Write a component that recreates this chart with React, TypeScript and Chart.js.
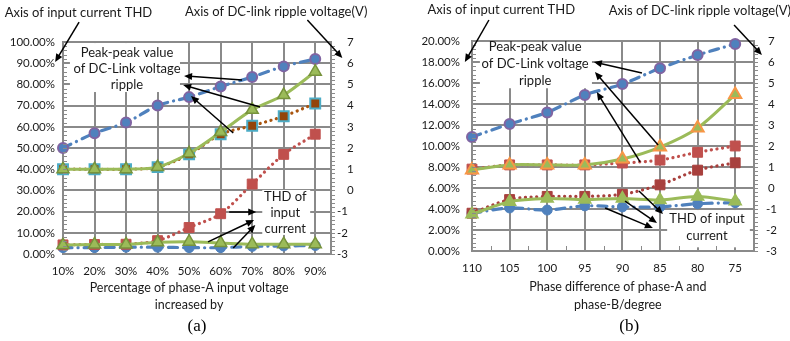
import React, { useEffect, useRef } from 'react';
import { Chart, registerables } from 'chart.js';

Chart.register(...registerables);

// ---------------- Chart (a) data ----------------
const categoriesA = ['10%', '20%', '30%', '40%', '50%', '60%', '70%', '80%', '90%'];
const rippleCirclesA = [2.0, 2.7, 3.2, 4.0, 4.4, 4.9, 5.35, 5.85, 6.2];
const rippleTrianglesA = [1.0, 1.0, 1.0, 1.1, 1.75, 2.75, 3.8, 4.5, 5.6];
const rippleSquaresA = [1.0, 1.0, 1.0, 1.1, 1.7, 2.65, 3.05, 3.5, 4.1];
const thdSquaresA = [4.3, 4.5, 4.6, 6.3, 12.5, 19.0, 33.0, 47.0, 56.5];
const thdTrianglesA = [4.2, 4.5, 4.5, 5.5, 5.8, 5.2, 4.6, 4.6, 4.6];
const thdCirclesA = [3.0, 3.0, 3.2, 3.2, 3.0, 3.0, 3.6, 3.8, 4.0];
const thdAxisA = [0, 100, 10]; // min, max, step (%)
const voltAxisA = [-3, 7, 1];

// ---------------- Chart (b) data ----------------
const categoriesB = ['110', '105', '100', '95', '90', '85', '80', '75'];
const rippleCirclesB = [2.43, 3.05, 3.6, 4.43, 4.95, 5.7, 6.33, 6.86];
const rippleTrianglesB = [0.86, 1.1, 1.1, 1.1, 1.38, 1.95, 2.86, 4.45];
const rippleSquaresB = [0.9, 1.1, 1.1, 1.1, 1.19, 1.33, 1.7, 2.0];
const thdSquaresB = [3.6, 4.9, 5.2, 5.2, 5.4, 6.3, 7.7, 8.4];
const thdTrianglesB = [3.5, 4.7, 5.0, 4.9, 5.0, 4.85, 5.2, 4.75];
const thdCirclesB = [3.6, 4.1, 3.9, 4.3, 4.2, 4.2, 4.5, 4.6];
const thdAxisB = [0, 20, 2];
const voltAxisB = [-3, 7, 1];

// ---------------- styles ----------------
const BLUE = '#4F81BD';
const PURPLE = '#8064A2';
const GREEN = '#9BBB59';
const GREEN_DARK = '#77933C';
const RED = '#C0504D';
const RED_DARK = '#A8403D';
const AQUA = '#4BACC6';
const BROWN_LINE = '#A9550F';
const BROWN_FILL = '#93440B';
const ORANGE = '#F79646';
const GRID = '#8a8a8a';
const TEXT = '#1a1a1a';
const FONT = 'Lato';
const TICK_SIZE = 11.5;
const NOTE_SIZE = 13;
const TITLE_SIZE = 12.5;

const solid = (color: string) => ({ borderColor: color, borderWidth: 3, tension: 0.3 });
const dotted = (color: string) => ({
  borderColor: color, borderWidth: 3.2, borderDash: [0.1, 5.5], borderCapStyle: 'round', tension: 0.3,
});
const dashDot = (color: string) => ({
  borderColor: color, borderWidth: 3.2, borderDash: [9, 6, 0.1, 6], borderCapStyle: 'round', tension: 0.3,
});
const marker = (style: string, fill: string, border: string, r: number, bw: number) => ({
  pointStyle: style, pointBackgroundColor: fill, pointBorderColor: border, pointRadius: r, pointBorderWidth: bw,
});

type Pt = [number, number];
interface Spec {
  categories: string[];
  thdAxis: number[];
  voltAxis: number[];
  area: { left: number; right: number; top: number; bottom: number };
  leftPad: number;
  rightPos: number;
  rightNeg: number;
  xMinor: boolean;
  datasets: any[];
  boxes: [number, number, number, number][];
  texts: { at: Pt; lines: string[]; lh: number }[];
  arrows: [Pt, Pt][];
  xTitle: { x: number; lines: string[]; dy: number[] };
  caption: { x: number; text: string; dy: number };
}

const series = (vals: number[], axis: string, style: any) => ({
  data: vals.map((v, i) => ({ x: i, y: v })),
  yAxisID: axis,
  fill: false,
  clip: false,
  ...style,
});

const specA: Spec = {
  categories: categoriesA,
  thdAxis: thdAxisA,
  voltAxis: voltAxisA,
  area: { left: 63, right: 331, top: 42, bottom: 254 },
  leftPad: 8,
  rightPos: 16,
  rightNeg: 6,
  xMinor: false,
  datasets: [
    series(rippleTrianglesA, 'y2', { ...solid(GREEN), ...marker('triangle', GREEN, GREEN_DARK, 7, 1.5) }),
    series(thdTrianglesA, 'y', { ...solid(GREEN), ...marker('triangle', GREEN, GREEN_DARK, 7, 1.5) }),
    series(rippleSquaresA, 'y2', { ...dotted(BROWN_LINE), ...marker('rect', BROWN_FILL, AQUA, 7, 2) }),
    series(thdSquaresA, 'y', { ...dotted(RED), ...marker('rect', RED, RED, 7, 1) }),
    series(rippleCirclesA, 'y2', { ...dashDot(BLUE), ...marker('circle', BLUE, PURPLE, 5, 2) }),
    series(thdCirclesA, 'y', { ...dashDot(BLUE), ...marker('circle', BLUE, BLUE, 5, 1) }),
  ],
  boxes: [
    [0.22, 99.5, 3.71, 76.4],
    [6.32, 30.2, 7.84, 9.0],
  ],
  texts: [
    { at: [0.49, 113.7], lines: ['Axis of input current THD'], lh: 16 },
    { at: [6.76, 114.2], lines: ['Axis of DC-link ripple voltage(V)'], lh: 16 },
    { at: [2.03, 94.8], lines: ['Peak-peak value', 'of DC-Link voltage', 'ripple'], lh: 16 },
    { at: [7.05, 26.9], lines: ['THD of', 'input', 'current'], lh: 16 },
  ],
  arrows: [
    [[0.51, 109.4], [-0.25, 90.6]],
    [[7.75, 110.4], [8.86, 92.5]],
    [[5.68, 82.1], [3.84, 84.0]],
    [[6.25, 69.3], [3.81, 79.7]],
    [[5.4, 57.1], [4.06, 74.5]],
    [[5.27, 19.8], [6.13, 19.8]],
    [[4.6, 5.7], [6.06, 16.0]],
    [[5.4, 2.8], [6.1, 13.7]],
  ],
  xTitle: { x: 4.0, lines: ['Percentage of phase-A input voltage', 'increased by'], dy: [34, 51] },
  caption: { x: 4.25, text: '(a)', dy: 73 },
};

const specB: Spec = {
  categories: categoriesB,
  thdAxis: thdAxisB,
  voltAxis: voltAxisB,
  area: { left: 77, right: 359, top: 41, bottom: 251 },
  leftPad: 12,
  rightPos: 14,
  rightNeg: 12,
  xMinor: true,
  datasets: [
    series(rippleTrianglesB, 'y2', { ...solid(GREEN), ...marker('triangle', GREEN, ORANGE, 7, 2) }),
    series(thdTrianglesB, 'y', { ...solid(GREEN), ...marker('triangle', GREEN, GREEN, 7, 1.5) }),
    series(rippleSquaresB, 'y2', { ...dotted(RED), ...marker('rect', RED, RED, 7, 1) }),
    series(thdSquaresB, 'y', { ...dotted(RED_DARK), ...marker('rect', RED_DARK, RED_DARK, 7, 1) }),
    series(rippleCirclesB, 'y2', { ...dashDot(BLUE), ...marker('circle', BLUE, PURPLE, 5, 2) }),
    series(thdCirclesB, 'y', { ...dashDot(BLUE), ...marker('circle', BLUE, BLUE, 5, 1) }),
  ],
  boxes: [
    [0.21, 19.9, 3.19, 15.5],
    [5.19, 3.9, 7.39, 0.35],
  ],
  texts: [
    { at: [0.78, 22.95], lines: ['Axis of input current THD'], lh: 16 },
    { at: [6.06, 22.86], lines: ['Axis of DC-link ripple voltage(V)'], lh: 16 },
    { at: [1.68, 19.43], lines: ['Peak-peak value', 'of DC-Link voltage', 'ripple'], lh: 17 },
    { at: [6.25, 3.05], lines: ['THD of input', 'current'], lh: 17 },
  ],
  arrows: [
    [[0.45, 22.0], [-0.19, 18.0]],
    [[6.97, 21.52], [7.71, 18.67]],
    [[4.52, 16.95], [3.24, 18.0]],
    [[4.95, 10.1], [3.27, 17.05]],
    [[4.47, 8.48], [3.32, 15.14]],
    [[4.44, 5.71], [5.08, 3.52]],
    [[4.07, 4.76], [4.92, 2.67]],
    [[3.54, 4.1], [4.81, 2.19]],
  ],
  xTitle: { x: 3.88, lines: ['Phase difference of phase-A and', 'phase-B/degree'], dy: [36, 54] },
  caption: { x: 4.18, text: '(b)', dy: 76 },
};

const W = 395;
const H = 341;

function drawArrow(ctx: CanvasRenderingContext2D, x0: number, y0: number, x1: number, y1: number) {
  const a = Math.atan2(y1 - y0, x1 - x0);
  const L = 8;
  const hw = 3.5;
  const c = Math.cos(a);
  const s = Math.sin(a);
  ctx.beginPath();
  ctx.moveTo(x0, y0);
  ctx.lineTo(x1 - c * L * 0.7, y1 - s * L * 0.7);
  ctx.stroke();
  ctx.beginPath();
  ctx.moveTo(x1, y1);
  ctx.lineTo(x1 - c * L + s * hw, y1 - s * L - c * hw);
  ctx.lineTo(x1 - c * L - s * hw, y1 - s * L + c * hw);
  ctx.closePath();
  ctx.fill();
}

function makeNotes(spec: Spec) {
  return {
    id: 'notes',
    beforeDatasetsDraw(chart: any) {
      const { ctx } = chart;
      const xs = chart.scales.x;
      const ys = chart.scales.y;
      ctx.save();
      ctx.fillStyle = '#ffffff';
      for (const [x0, y0, x1, y1] of spec.boxes) {
        const px0 = xs.getPixelForValue(x0);
        const px1 = xs.getPixelForValue(x1);
        const py0 = ys.getPixelForValue(y0);
        const py1 = ys.getPixelForValue(y1);
        ctx.fillRect(Math.min(px0, px1), Math.min(py0, py1), Math.abs(px1 - px0), Math.abs(py1 - py0));
      }
      ctx.restore();
    },
    afterDraw(chart: any) {
      const { ctx, chartArea } = chart;
      const xs = chart.scales.x;
      const ys = chart.scales.y;
      const y2 = chart.scales.y2;
      ctx.save();
      // minor ticks
      ctx.strokeStyle = GRID;
      ctx.lineWidth = 1;
      const [lmin, lmax, lstep] = spec.thdAxis;
      for (let v = lmin; v < lmax - 1e-9; v += lstep / 5) {
        const py = Math.round(ys.getPixelForValue(v)) + 0.5;
        ctx.beginPath();
        ctx.moveTo(chartArea.left, py);
        ctx.lineTo(chartArea.left + 4, py);
        ctx.stroke();
      }
      const [rmin, rmax, rstep] = spec.voltAxis;
      for (let v = rmin; v < rmax - 1e-9; v += rstep / 5) {
        const py = Math.round(y2.getPixelForValue(v)) + 0.5;
        ctx.beginPath();
        ctx.moveTo(chartArea.right, py);
        ctx.lineTo(chartArea.right + 4, py);
        ctx.stroke();
      }
      if (spec.xMinor) {
        for (let i = 0; i < spec.categories.length; i++) {
          const px = Math.round(xs.getPixelForValue(i + 0.5)) + 0.5;
          ctx.beginPath();
          ctx.moveTo(px, chartArea.bottom);
          ctx.lineTo(px, chartArea.bottom - 5);
          ctx.stroke();
        }
      }
      // right axis labels
      ctx.fillStyle = TEXT;
      ctx.font = `${TICK_SIZE}px ${FONT}`;
      ctx.textAlign = 'left';
      ctx.textBaseline = 'middle';
      for (let v = rmin; v <= rmax + 1e-9; v += rstep) {
        const off = v < 0 ? spec.rightNeg : spec.rightPos;
        ctx.fillText(String(v), chartArea.right + off, y2.getPixelForValue(v));
      }
      // annotation texts
      ctx.font = `${NOTE_SIZE}px ${FONT}`;
      ctx.textAlign = 'center';
      for (const t of spec.texts) {
        const px = xs.getPixelForValue(t.at[0]);
        const py = ys.getPixelForValue(t.at[1]);
        t.lines.forEach((line, k) => ctx.fillText(line, px, py + k * t.lh));
      }
      // arrows
      ctx.strokeStyle = '#000000';
      ctx.fillStyle = '#000000';
      ctx.lineWidth = 1.5;
      for (const [[ax, ay], [bx, by]] of spec.arrows) {
        drawArrow(ctx, xs.getPixelForValue(ax), ys.getPixelForValue(ay), xs.getPixelForValue(bx), ys.getPixelForValue(by));
      }
      // x axis title
      ctx.fillStyle = TEXT;
      ctx.font = `${TITLE_SIZE}px ${FONT}`;
      const tx = xs.getPixelForValue(spec.xTitle.x);
      spec.xTitle.lines.forEach((line, k) => ctx.fillText(line, tx, chartArea.bottom + spec.xTitle.dy[k]));
      // caption
      ctx.fillStyle = '#000000';
      ctx.font = `17px "Liberation Serif"`;
      ctx.fillText(spec.caption.text, xs.getPixelForValue(spec.caption.x), chartArea.bottom + spec.caption.dy);
      ctx.restore();
    },
  };
}

function buildConfig(spec: Spec): any {
  const n = spec.categories.length;
  const [lmin, lmax, lstep] = spec.thdAxis;
  const [rmin, rmax, rstep] = spec.voltAxis;
  const tickFont = { family: FONT, size: TICK_SIZE };
  return {
    type: 'line',
    data: { datasets: spec.datasets },
    options: {
      animation: false,
      responsive: false,
      devicePixelRatio: 1,
      layout: { padding: { top: spec.area.top, left: 0, right: 0, bottom: 0 } },
      plugins: { legend: { display: false }, tooltip: { enabled: false } },
      scales: {
        x: {
          type: 'linear',
          min: 0,
          max: n - 0.5,
          afterFit: (s: any) => { s.height = H - spec.area.bottom; },
          ticks: {
            stepSize: 1,
            includeBounds: false,
            autoSkip: false,
            maxRotation: 0,
            padding: 10,
            color: TEXT,
            font: tickFont,
            callback: (v: number) => spec.categories[v] ?? '',
          },
          grid: { color: GRID, lineWidth: 2, drawTicks: false },
          border: { color: GRID, width: 2 },
        },
        y: {
          position: 'left',
          min: lmin,
          max: lmax,
          afterFit: (s: any) => { s.width = spec.area.left; },
          ticks: {
            stepSize: lstep,
            padding: spec.leftPad,
            color: TEXT,
            font: tickFont,
            callback: (v: number) => `${Number(v).toFixed(2)}%`,
          },
          grid: { color: GRID, lineWidth: 2, drawTicks: false },
          border: { color: GRID, width: 2 },
        },
        y2: {
          position: 'right',
          min: rmin,
          max: rmax,
          afterFit: (s: any) => { s.width = W - spec.area.right; },
          ticks: { stepSize: rstep, display: false },
          grid: { display: false, drawTicks: false },
          border: { color: GRID, width: 2 },
        },
      },
    },
    plugins: [makeNotes(spec)],
  };
}

function Panel({ spec, left }: { spec: Spec; left: number }) {
  const ref = useRef<HTMLCanvasElement>(null);
  useEffect(() => {
    const chart = new Chart(ref.current as HTMLCanvasElement, buildConfig(spec));
    return () => chart.destroy();
  }, [spec]);
  return (
    <canvas
      ref={ref}
      width={W}
      height={H}
      style={{ position: 'absolute', left, top: 0, width: W, height: H, display: 'block' }}
    />
  );
}

export default function App() {
  return (
    <div style={{ position: 'fixed', left: 0, top: 0, width: 790, height: 341, background: '#ffffff', overflow: 'hidden' }}>
      <Panel spec={specA} left={0} />
      <Panel spec={specB} left={395} />
    </div>
  );
}
